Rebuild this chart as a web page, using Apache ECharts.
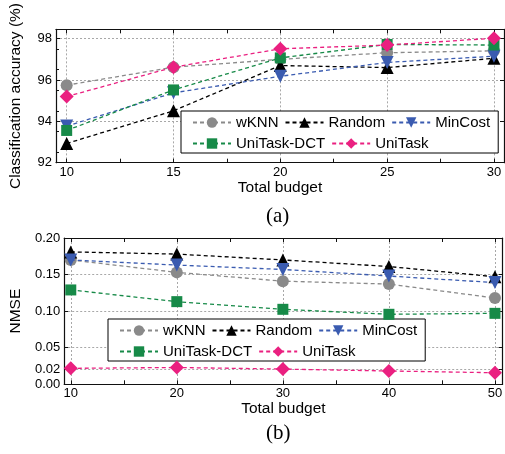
<!DOCTYPE html>
<html><head><meta charset="utf-8">
<script src="https://cdn.jsdelivr.net/npm/echarts@6/dist/echarts.min.js"></script>
<style>html,body{margin:0;padding:0;background:#fff}#c{width:505px;height:454px}</style>
</head><body><div id="c"></div>
<script>
// ---- data ----
const seriesNames = ['wKNN', 'Random', 'MinCost', 'UniTask-DCT', 'UniTask'];
const budgetA = [10, 15, 20, 25, 30];
const accWKNN    = [95.75, 96.62, 97.0, 97.32, 97.41];
const accRandom  = [92.93, 94.51, 96.70, 96.60, 97.05];
const accMinCost = [93.77, 95.38, 96.18, 96.85, 97.15];
const accDCT     = [93.56, 95.52, 97.07, 97.72, 97.69];
const accUniTask = [95.20, 96.62, 97.51, 97.69, 98.02];
const budgetB = [10, 20, 30, 40, 50];
const nmseWKNN    = [0.170, 0.153, 0.141, 0.137, 0.118];
const nmseRandom  = [0.181, 0.178, 0.170, 0.161, 0.147];
const nmseMinCost = [0.170, 0.163, 0.157, 0.148, 0.139];
const nmseDCT     = [0.129, 0.113, 0.1025, 0.0957, 0.097];
const nmseUniTask = [0.0218, 0.0230, 0.0208, 0.0182, 0.0158];
const xTicksA = [10, 15, 20, 25, 30];
const xMinorA = [12.5, 17.5, 22.5, 27.5];
const yTicksA = [92, 94, 96, 98];
const xTicksB = [10, 20, 30, 40, 50];
const xMinorB = [15, 25, 35, 45];
const yTicksB = [0, 0.02, 0.05, 0.10, 0.15, 0.20];

// ---- styles ----
const FONT = 'Liberation Sans, Arial, sans-serif';
const colors = ['#8a8a8a', '#000000', '#3a5bb0', '#178a48', '#ea2080'];
const symbols = ['circle', 'triangle', 'triangle', 'rect', 'diamond'];
const symRot = [0, 0, 180, 0, 0];
const symSize = [12, 13, 13, 11, 14];
const gridLine = {show: true, lineStyle: {color: '#a8a8a8', width: 1, type: [2, 2]}};
const axLine = {show: true, onZero: false, lineStyle: {color: '#111', width: 1.2}};
const tickStyle = {inside: true, length: 4, lineStyle: {color: '#111', width: 1}};

function mkSeries(xs, arrs, xi, yi) {
  return arrs.map((vals, i) => ({
    name: seriesNames[i], type: 'line', xAxisIndex: xi, yAxisIndex: yi,
    data: xs.map((x, k) => [x, vals[k]]),
    symbol: symbols[i], symbolSize: symSize[i], symbolRotate: symRot[i],
    color: colors[i], itemStyle: {color: colors[i]},
    lineStyle: {color: colors[i], width: 1.3, type: [4, 3]},
    animation: false, z: 3 + i
  }));
}
function xAxes(grid, min, max, ticks, minors, name) {
  return [
    {type: 'value', gridIndex: grid, min, max, position: 'bottom',
     name, nameLocation: 'middle', nameGap: 12,
     nameTextStyle: {fontFamily: FONT, fontSize: 15.5, color: '#000'},
     axisLine: axLine, axisTick: Object.assign({customValues: ticks}, tickStyle),
     axisLabel: {customValues: ticks, margin: 3, fontFamily: FONT, fontSize: 13, color: '#000'},
     splitLine: gridLine},
    {type: 'value', gridIndex: grid, min, max, position: 'bottom',
     axisLine: {show: false}, axisTick: Object.assign({customValues: minors}, tickStyle),
     axisLabel: {show: false}, splitLine: {show: false}},
    {type: 'value', gridIndex: grid, min, max, position: 'top',
     axisLine: axLine, axisTick: Object.assign({customValues: ticks.concat(minors)}, tickStyle),
     axisLabel: {show: false}, splitLine: {show: false}}
  ];
}
function yAxes(grid, min, max, ticks, name, fmt, extra) {
  return [
    Object.assign({type: 'value', gridIndex: grid, min, max, position: 'left',
     name, nameLocation: 'middle', nameGap: 32,
     nameTextStyle: {fontFamily: FONT, fontSize: 15.5, color: '#000'},
     axisLine: axLine, axisTick: Object.assign({customValues: ticks}, tickStyle),
     axisLabel: {customValues: ticks, margin: 4, formatter: fmt, fontFamily: FONT, fontSize: 13, color: '#000'},
     splitLine: gridLine}, extra || {}),
    {type: 'value', gridIndex: grid, min, max, position: 'right',
     axisLine: axLine, axisTick: Object.assign({customValues: ticks}, tickStyle),
     axisLabel: {show: false}, splitLine: {show: false}}
  ];
}
function legend(idx, left, top) {
  return {
    data: seriesNames, left, top, width: 350, orient: 'horizontal',
    itemWidth: 38, itemHeight: 13, itemGap: 6,
    padding: [4, 8, 2, 11], borderColor: '#000', borderWidth: 1, backgroundColor: '#fff',
    textStyle: {fontFamily: FONT, fontSize: 15, color: '#000'},
    selectedMode: false
  };
}

const chart = echarts.init(document.getElementById('c'), null, {renderer: 'canvas'});
const option = {
  animation: false,
  backgroundColor: '#fff',
  title: [
    {text: '(a)', left: 266, top: 206, padding: 0, textStyle: {fontFamily: 'Liberation Serif, Times New Roman, serif', fontSize: 21, fontWeight: 'normal', color: '#000'}},
    {text: '(b)', left: 266, top: 423, padding: 0, textStyle: {fontFamily: 'Liberation Serif, Times New Roman, serif', fontSize: 21, fontWeight: 'normal', color: '#000'}}
  ],
  grid: [
    {left: 54, right: 1, top: 17, bottom: 291.3},
    {left: 54, right: 1, top: 238, bottom: 69.7}
  ],
  legend: [legend(0, 181, 111), legend(1, 108, 319)],
  xAxis: xAxes(0, 9.5, 30.47, xTicksA, xMinorA, 'Total budget')
    .concat(xAxes(1, 9.38, 50.72, xTicksB, xMinorB, 'Total budget')),
  yAxis: yAxes(0, 92, 98.45, yTicksA, 'Classification accuracy (%)', v => String(v),
               {minorTick: {show: true, splitNumber: 2, length: 3, lineStyle: {color: '#111'}}})
    .concat(yAxes(1, 0, 0.2, yTicksB, 'NMSE', v => v.toFixed(2))),
  series: mkSeries(budgetA, [accWKNN, accRandom, accMinCost, accDCT, accUniTask], 0, 0)
    .concat(mkSeries(budgetB, [nmseWKNN, nmseRandom, nmseMinCost, nmseDCT, nmseUniTask], 3, 2))
};
chart.setOption(option);
</script></body></html>
